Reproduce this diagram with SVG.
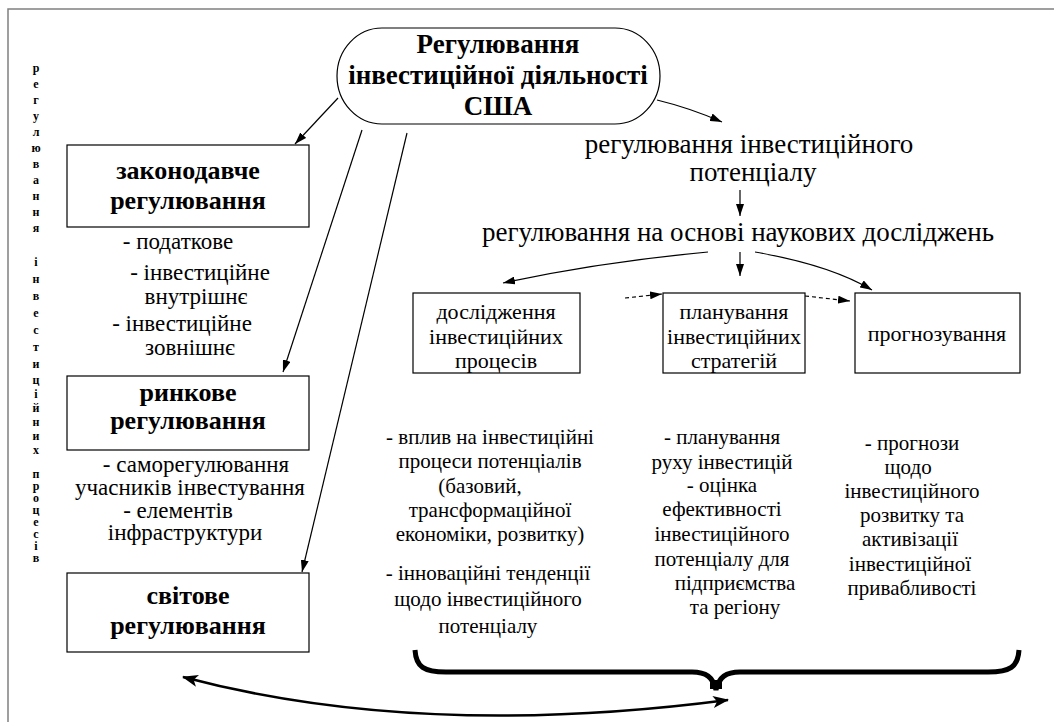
<svg xmlns="http://www.w3.org/2000/svg" width="1054" height="722" viewBox="0 0 1054 722">
<style>
text, tspan { font-family: "Liberation Serif", "Times New Roman", serif !important; }
.box { fill: #fff; stroke: #000; stroke-width: 1.2; }
</style>
<defs>
<marker id="ah" viewBox="0 0 12 8" refX="12" refY="4" markerWidth="12" markerHeight="8" markerUnits="userSpaceOnUse" orient="auto"><path d="M0,0 L12,4 L0,8 z"/></marker>
<marker id="ahb" viewBox="0 0 16 12" refX="15" refY="6" markerWidth="16" markerHeight="12" markerUnits="userSpaceOnUse" orient="auto-start-reverse"><path d="M0,0 L16,6 L0,12 L4,6 z"/></marker>
</defs>
<rect width="1054" height="722" fill="#fff"/>
<path d="M8,722 L8,9 L1054,9" fill="none" stroke="#808080" stroke-width="1.5"/>

<g id="side-label">
<text style="font-family:'Liberation Serif',serif" font-family="Liberation Serif" font-size="12" font-weight="bold" text-anchor="middle" x="36"><tspan x="36" y="72">р</tspan><tspan x="36" y="88">е</tspan><tspan x="36" y="104">г</tspan><tspan x="36" y="120">у</tspan><tspan x="36" y="136">л</tspan><tspan x="36" y="152">ю</tspan><tspan x="36" y="168">в</tspan><tspan x="36" y="184">а</tspan><tspan x="36" y="200">н</tspan><tspan x="36" y="216">н</tspan><tspan x="36" y="232">я</tspan><tspan x="36" y="266">і</tspan><tspan x="36" y="283">н</tspan><tspan x="36" y="300">в</tspan><tspan x="36" y="317">е</tspan><tspan x="36" y="334">с</tspan><tspan x="36" y="351">т</tspan><tspan x="36" y="368">и</tspan><tspan x="36" y="384">ц</tspan><tspan x="36" y="398">і</tspan><tspan x="36" y="412">й</tspan><tspan x="36" y="426">н</tspan><tspan x="36" y="440">и</tspan><tspan x="36" y="454">х</tspan><tspan x="36" y="478">п</tspan><tspan x="36" y="490">р</tspan><tspan x="36" y="502">о</tspan><tspan x="36" y="514">ц</tspan><tspan x="36" y="526">е</tspan><tspan x="36" y="538">с</tspan><tspan x="36" y="550">і</tspan><tspan x="36" y="562">в</tspan></text>
</g>

<g id="main">
<rect class="box" x="337" y="28" width="323" height="96" rx="45" ry="48"/>
<text style="font-family:'Liberation Serif',serif" font-family="Liberation Serif" font-size="27" font-weight="bold" text-anchor="middle" x="498" y="53">Регулювання</text>
<text style="font-family:'Liberation Serif',serif" font-family="Liberation Serif" font-size="27" font-weight="bold" text-anchor="middle" x="498" y="84">інвестиційної діяльності</text>
<text style="font-family:'Liberation Serif',serif" font-family="Liberation Serif" font-size="27" font-weight="bold" text-anchor="middle" x="498" y="115">США</text>
</g>

<g id="legislative">
<rect class="box" x="67" y="145" width="242" height="82"/>
<text style="font-family:'Liberation Serif',serif" font-family="Liberation Serif" font-size="26" font-weight="bold" text-anchor="middle" x="188" y="179">законодавче</text>
<text style="font-family:'Liberation Serif',serif" font-family="Liberation Serif" font-size="26" font-weight="bold" text-anchor="middle" x="188" y="209">регулювання</text>
<text style="font-family:'Liberation Serif',serif" font-family="Liberation Serif" font-size="23" text-anchor="middle" x="178" y="249">- податкове</text>
<text style="font-family:'Liberation Serif',serif" font-family="Liberation Serif" font-size="23" text-anchor="middle" x="200" y="280">- інвестиційне</text>
<text style="font-family:'Liberation Serif',serif" font-family="Liberation Serif" font-size="23" text-anchor="middle" x="196" y="304">внутрішнє</text>
<text style="font-family:'Liberation Serif',serif" font-family="Liberation Serif" font-size="23" text-anchor="middle" x="182" y="331">- інвестиційне</text>
<text style="font-family:'Liberation Serif',serif" font-family="Liberation Serif" font-size="23" text-anchor="middle" x="190" y="355">зовнішнє</text>
</g>

<g id="market">
<rect class="box" x="67" y="376" width="242" height="74"/>
<text style="font-family:'Liberation Serif',serif" font-family="Liberation Serif" font-size="26" font-weight="bold" text-anchor="middle" x="188" y="401">ринкове</text>
<text style="font-family:'Liberation Serif',serif" font-family="Liberation Serif" font-size="26" font-weight="bold" text-anchor="middle" x="188" y="429">регулювання</text>
<text style="font-family:'Liberation Serif',serif" font-family="Liberation Serif" font-size="23" text-anchor="middle" x="196" y="472">- саморегулювання</text>
<text style="font-family:'Liberation Serif',serif" font-family="Liberation Serif" font-size="23" text-anchor="middle" x="190" y="495">учасників інвестування</text>
<text style="font-family:'Liberation Serif',serif" font-family="Liberation Serif" font-size="23" text-anchor="middle" x="178" y="518">- елементів</text>
<text style="font-family:'Liberation Serif',serif" font-family="Liberation Serif" font-size="23" text-anchor="middle" x="185" y="540">інфраструктури</text>
</g>

<g id="world">
<rect class="box" x="67" y="573" width="242" height="79"/>
<text style="font-family:'Liberation Serif',serif" font-family="Liberation Serif" font-size="26" font-weight="bold" text-anchor="middle" x="188" y="604">світове</text>
<text style="font-family:'Liberation Serif',serif" font-family="Liberation Serif" font-size="26" font-weight="bold" text-anchor="middle" x="188" y="634">регулювання</text>
</g>

<g id="potential">
<text style="font-family:'Liberation Serif',serif" font-family="Liberation Serif" font-size="27" text-anchor="middle" x="749" y="153">регулювання інвестиційного</text>
<text style="font-family:'Liberation Serif',serif" font-family="Liberation Serif" font-size="27" text-anchor="middle" x="753" y="181">потенціалу</text>
</g>

<g id="science">
<text style="font-family:'Liberation Serif',serif" font-family="Liberation Serif" font-size="27" text-anchor="middle" x="738" y="241">регулювання на основі наукових досліджень</text>
</g>

<g id="research">
<rect class="box" x="413" y="293" width="167" height="80"/>
<text style="font-family:'Liberation Serif',serif" font-family="Liberation Serif" font-size="22" text-anchor="middle" x="496" y="319">дослідження</text>
<text style="font-family:'Liberation Serif',serif" font-family="Liberation Serif" font-size="22" text-anchor="middle" x="496" y="344">інвестиційних</text>
<text style="font-family:'Liberation Serif',serif" font-family="Liberation Serif" font-size="22" text-anchor="middle" x="496" y="368">процесів</text>
<text style="font-family:'Liberation Serif',serif" font-family="Liberation Serif" font-size="21" text-anchor="middle" x="490" y="444">- вплив на інвестиційні</text>
<text style="font-family:'Liberation Serif',serif" font-family="Liberation Serif" font-size="21" text-anchor="middle" x="490" y="468">процеси потенціалів</text>
<text style="font-family:'Liberation Serif',serif" font-family="Liberation Serif" font-size="21" text-anchor="middle" x="480" y="493">(базовий,</text>
<text style="font-family:'Liberation Serif',serif" font-family="Liberation Serif" font-size="21" text-anchor="middle" x="490" y="517">трансформаційної</text>
<text style="font-family:'Liberation Serif',serif" font-family="Liberation Serif" font-size="21" text-anchor="middle" x="490" y="541">економіки, розвитку)</text>
<text style="font-family:'Liberation Serif',serif" font-family="Liberation Serif" font-size="21" text-anchor="middle" x="488" y="580">- інноваційні тенденції</text>
<text style="font-family:'Liberation Serif',serif" font-family="Liberation Serif" font-size="21" text-anchor="middle" x="488" y="606">щодо інвестиційного</text>
<text style="font-family:'Liberation Serif',serif" font-family="Liberation Serif" font-size="21" text-anchor="middle" x="488" y="633">потенціалу</text>
</g>

<g id="planning">
<rect class="box" x="663" y="293" width="142" height="80"/>
<text style="font-family:'Liberation Serif',serif" font-family="Liberation Serif" font-size="22" text-anchor="middle" x="734" y="319">планування</text>
<text style="font-family:'Liberation Serif',serif" font-family="Liberation Serif" font-size="22" text-anchor="middle" x="734" y="344">інвестиційних</text>
<text style="font-family:'Liberation Serif',serif" font-family="Liberation Serif" font-size="22" text-anchor="middle" x="734" y="368">стратегій</text>
<text style="font-family:'Liberation Serif',serif" font-family="Liberation Serif" font-size="21" text-anchor="middle" x="722" y="444">- планування</text>
<text style="font-family:'Liberation Serif',serif" font-family="Liberation Serif" font-size="21" text-anchor="middle" x="722" y="469">руху інвестицій</text>
<text style="font-family:'Liberation Serif',serif" font-family="Liberation Serif" font-size="21" text-anchor="middle" x="722" y="492">- оцінка</text>
<text style="font-family:'Liberation Serif',serif" font-family="Liberation Serif" font-size="21" text-anchor="middle" x="722" y="516">ефективності</text>
<text style="font-family:'Liberation Serif',serif" font-family="Liberation Serif" font-size="21" text-anchor="middle" x="722" y="541">інвестиційного</text>
<text style="font-family:'Liberation Serif',serif" font-family="Liberation Serif" font-size="21" text-anchor="middle" x="722" y="566">потенціалу для</text>
<text style="font-family:'Liberation Serif',serif" font-family="Liberation Serif" font-size="21" text-anchor="middle" x="735" y="590">підприємства</text>
<text style="font-family:'Liberation Serif',serif" font-family="Liberation Serif" font-size="21" text-anchor="middle" x="735" y="614">та регіону</text>
</g>

<g id="forecast">
<rect class="box" x="855" y="293" width="165" height="80"/>
<text style="font-family:'Liberation Serif',serif" font-family="Liberation Serif" font-size="22" text-anchor="middle" x="937" y="341">прогнозування</text>
<text style="font-family:'Liberation Serif',serif" font-family="Liberation Serif" font-size="21" text-anchor="middle" x="912" y="450">- прогнози</text>
<text style="font-family:'Liberation Serif',serif" font-family="Liberation Serif" font-size="21" text-anchor="middle" x="908" y="474">щодо</text>
<text style="font-family:'Liberation Serif',serif" font-family="Liberation Serif" font-size="21" text-anchor="middle" x="912" y="498">інвестиційного</text>
<text style="font-family:'Liberation Serif',serif" font-family="Liberation Serif" font-size="21" text-anchor="middle" x="912" y="522">розвитку та</text>
<text style="font-family:'Liberation Serif',serif" font-family="Liberation Serif" font-size="21" text-anchor="middle" x="910" y="546">активізації</text>
<text style="font-family:'Liberation Serif',serif" font-family="Liberation Serif" font-size="21" text-anchor="middle" x="910" y="571">інвестиційної</text>
<text style="font-family:'Liberation Serif',serif" font-family="Liberation Serif" font-size="21" text-anchor="middle" x="912" y="595">привабливості</text>
</g>

<g id="brace">
<path d="M415,650 C416,667 424,672 446,672 L692,672 C706,672 713,677 716,690 C719,677 726,672 740,672 L988,672 C1010,672 1018,667 1019,650" fill="none" stroke="#000" stroke-width="5"/>
<rect x="710" y="680" width="12" height="9" fill="#000"/>
</g>

<g id="connectors" fill="none" stroke="#000" stroke-width="1.2">
<path d="M338,98 L295,144" marker-end="url(#ah)"/>
<path d="M362,130 L283,372" marker-end="url(#ah)"/>
<path d="M407,133 L302,572" marker-end="url(#ah)"/>
<path d="M657,100 Q690,108 722,122" marker-end="url(#ah)"/>
<path d="M740,190 L740,216" marker-end="url(#ah)"/>
<path d="M740,252 L740,276" marker-end="url(#ah)"/>
<path d="M708,252 Q600,262 503,283" marker-end="url(#ah)"/>
<path d="M755,252 Q830,265 872,290" marker-end="url(#ah)"/>
<path d="M625,298 L662,294" stroke-dasharray="4 3" marker-end="url(#ah)"/>
<path d="M805,296 L850,301" stroke-dasharray="4 3" marker-end="url(#ah)"/>
<path d="M183,677 Q420,740 728,700" stroke-width="2.5" marker-start="url(#ahb)" marker-end="url(#ahb)"/>
</g>
</svg>
